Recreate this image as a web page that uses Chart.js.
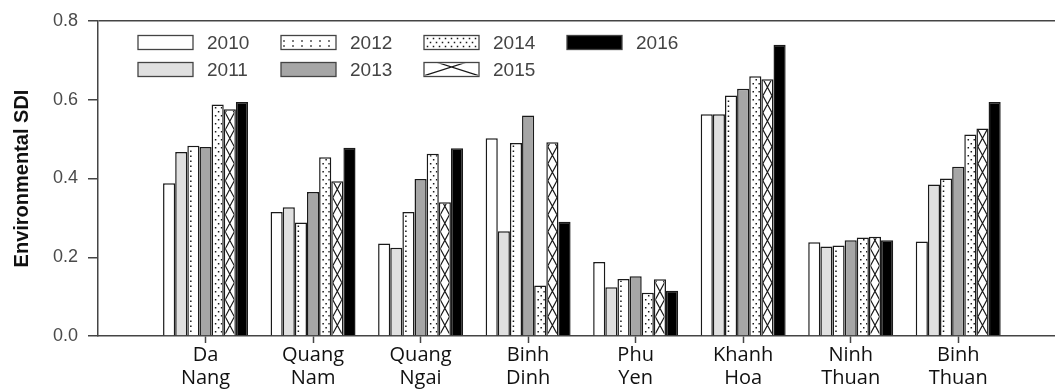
<!DOCTYPE html>
<html>
<head>
<meta charset="utf-8">
<title>Environmental SDI by province, 2010–2016</title>
<script src="https://cdn.jsdelivr.net/npm/chart.js@4/dist/chart.umd.min.js"></script>
<style>
  html, body { margin: 0; padding: 0; background: #ffffff; }
  canvas { display: block; }
</style>
</head>
<body>
<canvas id="sdiChart" width="1055" height="389"></canvas>
<script>
// Provinces (two-line axis labels)
const provinces = [
  ["Da", "Nang"], ["Quang", "Nam"], ["Quang", "Ngai"], ["Binh", "Dinh"],
  ["Phu", "Yen"], ["Khanh", "Hoa"], ["Ninh", "Thuan"], ["Binh", "Thuan"]
];
const years = ["2010", "2011", "2012", "2013", "2014", "2015", "2016"];

// Environmental SDI per province, one array per year
const sdi2010 = [0.388, 0.315, 0.235, 0.502, 0.188, 0.563, 0.238, 0.240];
const sdi2011 = [0.467, 0.327, 0.224, 0.266, 0.124, 0.563, 0.227, 0.385];
const sdi2012 = [0.483, 0.288, 0.315, 0.490, 0.145, 0.611, 0.230, 0.400];
const sdi2013 = [0.480, 0.366, 0.399, 0.560, 0.152, 0.628, 0.243, 0.430];
const sdi2014 = [0.588, 0.454, 0.463, 0.128, 0.110, 0.660, 0.250, 0.512];
const sdi2015 = [0.576, 0.393, 0.340, 0.492, 0.144, 0.652, 0.252, 0.527];
const sdi2016 = [0.594, 0.478, 0.477, 0.290, 0.115, 0.740, 0.243, 0.594];

const yTicks = [0, 0.2, 0.4, 0.6, 0.8];

// Fill style of each year: plain colour plus an optional hatch drawn on top
const yearFills = ["#ffffff", "#e0e0e0", "#ffffff", "#a6a6a6", "#ffffff", "#ffffff", "#000000"];
const yearHatch = [null, null, "sparseDots", null, "denseDots", "cross", null];

const seriesValues = [sdi2010, sdi2011, sdi2012, sdi2013, sdi2014, sdi2015, sdi2016];

const ink = "#1a1a1a";
const axisInk = "#444444";

function drawHatch(ctx, kind, l, t, r, b) {
  if (!kind || r <= l || b <= t) return;
  ctx.save();
  ctx.beginPath();
  ctx.rect(l, t, r - l, b - t);
  ctx.clip();
  ctx.fillStyle = ink;
  ctx.strokeStyle = ink;
  if (kind === "sparseDots") {
    for (let row = 0; b - 2.5 - row * 5 > t; row++) {
      const yy = b - 2.5 - row * 5;
      for (let xx = l + 2; xx < r; xx += 9) ctx.fillRect(xx - 0.75, yy - 0.75, 1.5, 1.5);
    }
  } else if (kind === "denseDots") {
    for (let row = 0; b - 2 - row * 4 > t; row++) {
      const yy = b - 2 - row * 4;
      const start = row % 2 === 0 ? l + 2.5 : l + 5.5;
      for (let xx = start; xx < r; xx += 6) ctx.fillRect(xx - 0.75, yy - 0.75, 1.5, 1.5);
    }
  } else if (kind === "cross") {
    const p = 17;
    ctx.lineWidth = 1.2;
    ctx.beginPath();
    let n = 0;
    ctx.moveTo(l, b);
    for (let yy = b; yy > t - p; yy -= p) {
      n++;
      ctx.lineTo(n % 2 ? r : l, yy - p);
    }
    n = 0;
    ctx.moveTo(r, b);
    for (let yy = b; yy > t - p; yy -= p) {
      n++;
      ctx.lineTo(n % 2 ? l : r, yy - p);
    }
    ctx.stroke();
  }
  ctx.restore();
}

// Hatching inside every bar of the patterned years
const hatchPlugin = {
  id: "barHatch",
  afterDatasetsDraw(chart) {
    const ctx = chart.ctx;
    chart.data.datasets.forEach((ds, di) => {
      const meta = chart.getDatasetMeta(di);
      if (!ds.hatch || meta.hidden) return;
      const bw = ds.borderWidth;
      meta.data.forEach(bar => {
        const p = bar.getProps(["x", "y", "base", "width"], true);
        const l = p.x - p.width / 2 + bw;
        const r = p.x + p.width / 2 - bw;
        const t = Math.min(p.y, p.base) + bw;
        const b = Math.max(p.y, p.base) - bw;
        drawHatch(ctx, ds.hatch, l, t, r, b);
      });
    });
  }
};

// Two-row legend, filled column by column, inside the plot
const gridLegendPlugin = {
  id: "gridLegend",
  afterDraw(chart, args, opts) {
    const ctx = chart.ctx;
    ctx.save();
    ctx.font = opts.fontSize + "px 'Liberation Sans', Arial, sans-serif";
    ctx.textBaseline = "middle";
    ctx.textAlign = "left";
    chart.data.datasets.forEach((ds, i) => {
      const col = Math.floor(i / opts.rows);
      const row = i % opts.rows;
      const bx = opts.left + col * opts.colStep;
      const cy = opts.rowCenters[row];
      const by = cy - opts.boxH / 2;
      ctx.fillStyle = ds.backgroundColor;
      ctx.fillRect(bx, by, opts.boxW, opts.boxH);
      drawHatch(ctx, ds.hatch, bx + 1, by + 1, bx + opts.boxW - 1, by + opts.boxH - 1);
      ctx.lineWidth = 1.3;
      ctx.strokeStyle = axisInk;
      ctx.strokeRect(bx, by, opts.boxW, opts.boxH);
      ctx.fillStyle = "#444444";
      ctx.fillText(ds.label, bx + opts.boxW + opts.textGap, cy + 1);
    });
    ctx.restore();
  }
};

const datasets = years.map((yr, k) => ({
  label: yr,
  data: seriesValues[k].map((v, i) => ({ x: i + 1, y: v })),
  backgroundColor: yearFills[k],
  borderColor: ink,
  borderWidth: 1.5,
  hatch: yearHatch[k],
  barPercentage: 1.0,
  categoryPercentage: 0.79
}));

new Chart(document.getElementById("sdiChart"), {
  type: "bar",
  data: { datasets },
  options: {
    responsive: false,
    animation: false,
    devicePixelRatio: 1,
    layout: { padding: { top: 21, right: 0, bottom: 0, left: 0 } },
    plugins: {
      legend: { display: false },
      tooltip: { enabled: false },
      gridLegend: {
        rows: 2, left: 138, colStep: 143, rowCenters: [42.5, 69.5],
        boxW: 55, boxH: 14, textGap: 14, fontSize: 19
      }
    },
    scales: {
      x: {
        type: "linear",
        offset: false,
        min: 0,
        max: provinces.length + 0.9,
        afterBuildTicks: scale => { scale.ticks = provinces.map((_, i) => ({ value: i + 1 })); },
        afterFit: scale => { scale.height = 53; },
        ticks: {
          autoSkip: false,
          maxRotation: 0,
          padding: 1,
          color: "#111111",
          font: { family: "'Open Sans', 'Liberation Sans', sans-serif", size: 20, lineHeight: 1.15 },
          callback: v => provinces[Math.round(v) - 1] || ""
        },
        grid: { offset: false, drawOnChartArea: false, drawTicks: true, tickLength: 7, tickColor: axisInk, tickWidth: 1.5 },
        border: { display: true, color: axisInk, width: 1.5 }
      },
      y: {
        min: yTicks[0],
        max: yTicks[yTicks.length - 1],
        afterBuildTicks: scale => { scale.ticks = yTicks.map(v => ({ value: v })); },
        afterFit: scale => { scale.width = 98; },
        ticks: {
          padding: 10,
          color: "#4a4a4a",
          font: { family: "'Liberation Sans', Arial, sans-serif", size: 18 },
          callback: v => Number(v).toFixed(1)
        },
        grid: {
          drawOnChartArea: true,
          tickLength: 10,
          lineWidth: 1.5,
          tickWidth: 1.5,
          tickColor: axisInk,
          color: c => (c.tick && c.tick.value === yTicks[yTicks.length - 1]) ? axisInk : "rgba(0,0,0,0)"
        },
        border: { display: true, color: axisInk, width: 1.5 },
        title: {
          display: true,
          text: "Environmental SDI",
          color: "#111111",
          font: { family: "'Liberation Sans', Arial, sans-serif", size: 20, weight: "bold" },
          padding: { top: 10, bottom: 0 }
        }
      }
    }
  },
  plugins: [hatchPlugin, gridLegendPlugin]
});
</script>
</body>
</html>
